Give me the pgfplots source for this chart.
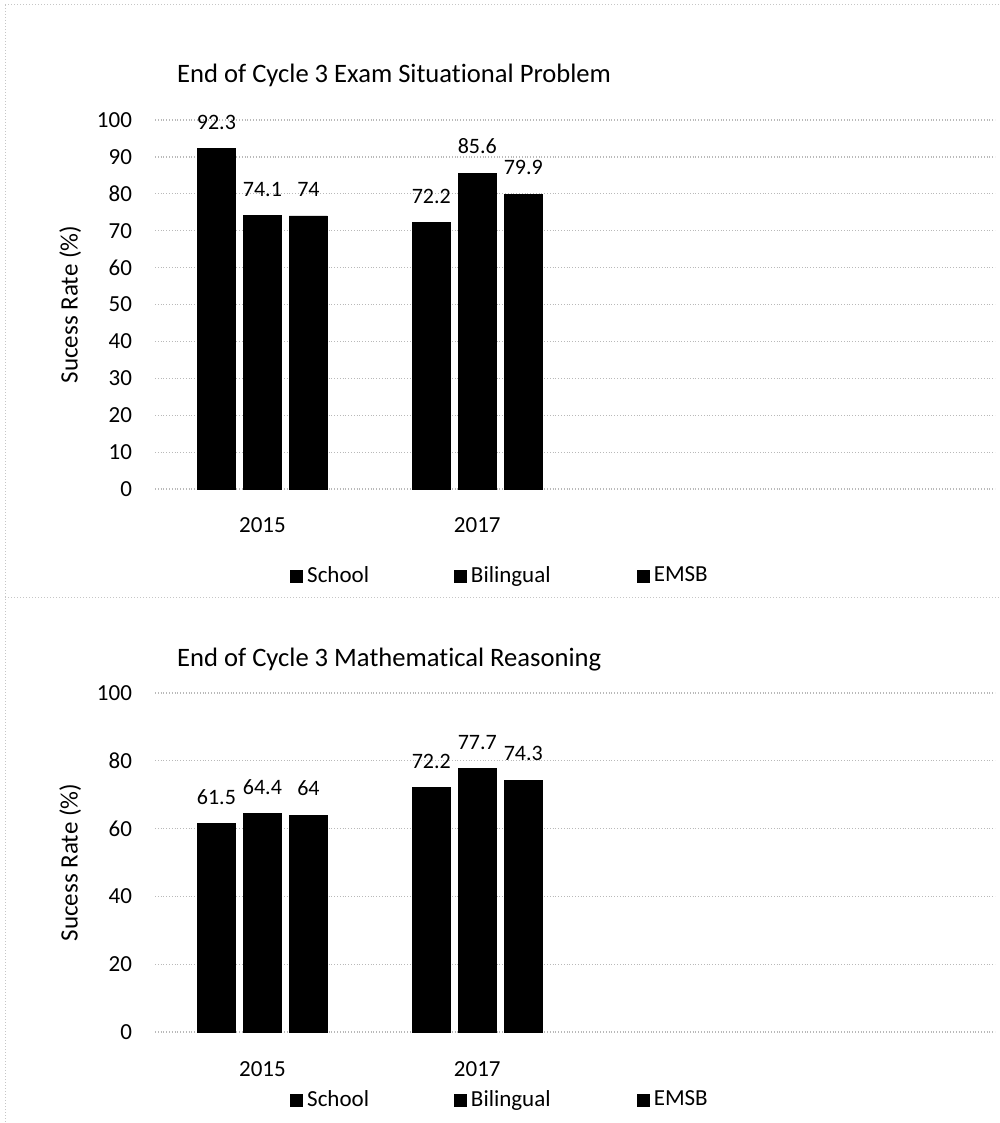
\documentclass[border=0pt]{standalone}
\usepackage{fontspec}
\setmainfont{Carlito}[Ligatures={NoCommon}]
\usepackage{pgfplots}
\pgfplotsset{compat=1.18}

% shared look of both success-rate panels
\pgfplotsset{
  successbars/.style={
    scale only axis,
    width=420pt,
    xmin=-0.5, xmax=3.41,
    ymin=0, ymax=100,
    xtick={0,1}, xticklabels={2015,2017},
    axis line style={draw=none},
    major tick length=0pt,
    ymajorgrids,
    major grid style={gray!55, densely dotted, line width=0.6pt},
    ybar, bar width=19pt,
    ticklabel style={font=\fontsize{11.5}{13}\selectfont},
    /pgf/number format/assume math mode=true,
    yticklabel style={xshift=-8pt},
    xticklabel style={yshift=-11pt},
    ylabel={Sucess Rate (\%)},
    ylabel style={font=\fontsize{12.5}{14}\selectfont, at={(axis description cs:-0.101,0.5)}, anchor=center},
    title style={font=\fontsize{13.3}{15}\selectfont, anchor=west},
    nodes near coords,
    every node near coord/.append style={font=\fontsize{11}{13}\selectfont, text=black, yshift=6pt},
    legend columns=3,
    legend style={draw=none, fill=none, inner sep=0pt, anchor=west,
      font=\fontsize{11.5}{13}\selectfont},
    legend image code/.code={\fill[black] (0pt,-3pt) rectangle (6pt,3pt);},
  },
  school/.style={fill=black, draw=black, bar shift=-23pt},
  bilingual/.style={fill=black, draw=black, bar shift=0pt},
  emsb/.style={fill=black, draw=black, bar shift=23pt},
}

\begin{document}
\begin{tikzpicture}
\useasboundingbox (0,0) rectangle (500pt,-561.5pt);

% panel frames
\draw[gray!45, densely dotted, line width=0.5pt] (2.5pt,-2.5pt) -- (500pt,-2.5pt);
\draw[gray!45, densely dotted, line width=0.5pt] (2.5pt,-2.5pt) -- (2.5pt,-561.5pt);
\draw[gray!45, densely dotted, line width=0.5pt] (2.5pt,-298.5pt) -- (500pt,-298.5pt);

% End of Cycle 3 Exam Situational Problem
\begin{axis}[successbars,
  at={(77.5pt,-244.5pt)}, anchor=south west,
  height=184.5pt,
  ytick={0,10,...,100},
  title={End of Cycle 3 Exam Situational Problem},
  title style={at={(axis description cs:0.018,1.087)}},
  legend style={at={(axis description cs:0.1607,-0.2358)}},
]
\addplot[school] coordinates {(0,92.3) (1,72.2)};
\addplot[bilingual] coordinates {(0,74.1) (1,85.6)};
\addplot[emsb] coordinates {(0,74) (1,79.9)};
\legend{\makebox[71.5pt][l]{School},\makebox[81pt][l]{Bilingual},EMSB}
\end{axis}

% End of Cycle 3 Mathematical Reasoning
\begin{axis}[successbars,
  at={(77.5pt,-516pt)}, anchor=south west,
  height=169.5pt,
  ytick={0,20,...,100},
  title={End of Cycle 3 Mathematical Reasoning},
  title style={at={(axis description cs:0.018,1.062)}},
  legend style={at={(axis description cs:0.1607,-0.2006)}},
]
\addplot[school] coordinates {(0,61.5) (1,72.2)};
\addplot[bilingual] coordinates {(0,64.4) (1,77.7)};
\addplot[emsb] coordinates {(0,64) (1,74.3)};
\legend{\makebox[71.5pt][l]{School},\makebox[81pt][l]{Bilingual},EMSB}
\end{axis}
\end{tikzpicture}
\end{document}
